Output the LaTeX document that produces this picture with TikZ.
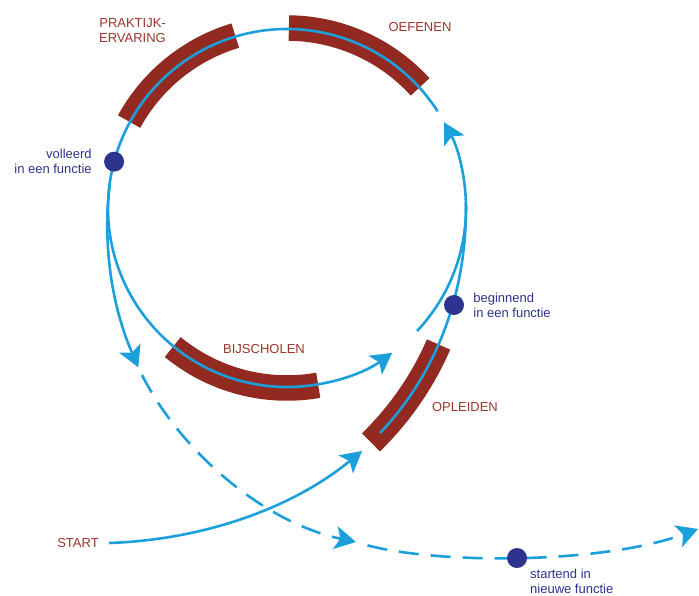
\documentclass[tikz,border=0pt]{standalone}
\usepackage{fontspec}
\setmainfont{Liberation Sans}
\usetikzlibrary{arrows.meta, positioning}
\definecolor{barred}{RGB}{146,42,34}
\definecolor{labelred}{RGB}{155,52,42}
\definecolor{pathblue}{RGB}{27,160,220}
\definecolor{dotblue}{RGB}{44,52,142}
% radius of the inner spiral (start loop) and of the outward spiral (exit)
\pgfmathdeclarefunction{rin}{1}{\pgfmathparse{179+64.5*(min(#1,0)/67.5)*(min(#1,0)/67.5)}}
\pgfmathdeclarefunction{rout}{1}{\pgfmathparse{179+39*((max(#1,175)-175)/52)*((max(#1,175)-175)/52)}}
\tikzset{
    phase/.style={draw=barred, line width=25.5pt},
    route/.style={draw=pathblue, line width=2.6pt},
    arrow/.style={-{Stealth[length=21pt, width=23pt, inset=5pt]}},
    switch/.style={route, dash pattern=on 20pt off 12pt},
    dot/.style={circle, fill=dotblue, minimum size=20pt, inner sep=0pt},
    phaselabel/.style={text=labelred, font=\fontsize{13}{15}\selectfont, inner sep=0pt, align=center},
    bluelabel/.style={text=dotblue, font=\fontsize{13}{15}\selectfont, inner sep=0pt}
}
\begin{document}
\begin{tikzpicture}[x=1pt, y=1pt]
    \useasboundingbox (0,0) rectangle (699,-595);
    \coordinate (hub) at (287,-208);

    % phases
    \draw[phase] ([shift={(106.7:180)}]hub) arc[start angle=106.7, end angle=151.3, radius=180];
    \draw[phase] ([shift={(42.3:180)}]hub) arc[start angle=42.3, end angle=89.4, radius=180];
    \draw[phase] ([shift={(230.6:180)}]hub) arc[start angle=230.6, end angle=280, radius=180];
    \begin{scope}[shift={(hub)}]
        \draw[phase] plot[domain=-70.3:-42, samples=20, smooth] ({rin(\x)*cos(\x)}, {rin(\x)*sin(\x)});
    \end{scope}

    % the loop
    \coordinate (enter) at (362,-451);
    \coordinate (leave) at (142,-375);
    \coordinate (turn) at (356,-542);
    \coordinate (away) at (698,-529);
    \begin{scope}[shift={(hub)}]
        \draw[route, arrow] plot[domain=-67.5:0, samples=30, smooth] ({rin(\x)*cos(\x)}, {rin(\x)*sin(\x)})
            arc[start angle=0, end angle=28.6, radius=179];
        \draw[route, arrow] plot[domain=172:227, samples=8, smooth] ({rout(\x)*cos(\x)}, {rout(\x)*sin(\x)});
    \end{scope}
    \draw[route, arrow] ([shift={(32.7:179)}]hub) arc[start angle=32.7, end angle=306, radius=179];
    \draw[route] ([shift={(-43.4:179)}]hub) arc[start angle=-43.4, end angle=2, radius=179];

    \node[phaselabel] (start) at (78,-543) {START};
    \draw[route, arrow] ([xshift=10pt]start.east) .. controls (200,-540) and (290,-510) .. (enter);
    \draw[switch, arrow] (leave) .. controls (180,-450) and (262,-522) .. (turn);
    \draw[switch, dash phase=20pt, arrow] (turn) .. controls (425,-565) and (600,-565) .. (away);

    % milestones
    \node[dot] (volleerd) at ([shift={(165:179)}]hub) {};
    \node[dot] (beginnend) at (454,-305) {};
    \node[dot] (startend) at (517,-558) {};
    \node[bluelabel, align=right, left=12pt of volleerd] (volleerdtext) {volleerd\\in een functie};
    \node[bluelabel, align=left, right=9pt of beginnend] (beginnendtext) {beginnend\\in een functie};
    \node[bluelabel, align=left, anchor=west] (startendtext) at ([shift={(13,-23)}]startend.center) {startend in\\nieuwe functie};

    \node[phaselabel, anchor=east, align=right] (praktijk) at (166,-31) {PRAKTIJK-\\ERVARING};
    \node[phaselabel] (oefenen) at (420,-27) {OEFENEN};
    \node[phaselabel] (bijscholen) at (264,-349) {BIJSCHOLEN};
    \node[phaselabel] (opleiden) at (465,-407) {OPLEIDEN};
\end{tikzpicture}
\end{document}
